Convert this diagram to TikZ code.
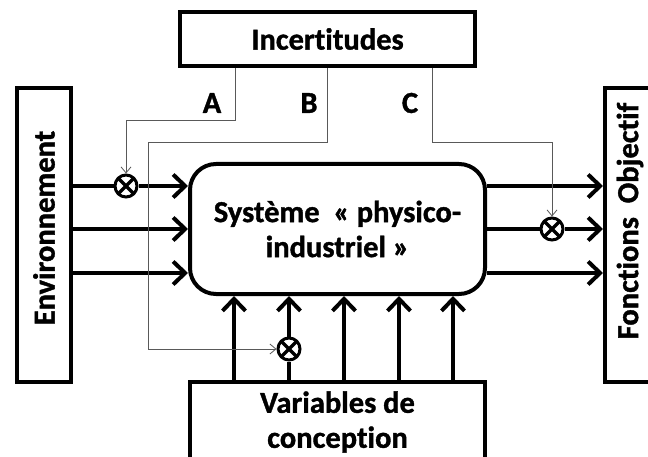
\documentclass[tikz,border=0pt]{standalone}
\usepackage{fontspec}
\setmainfont{Carlito}[Ligatures=NoCommon,BoldFeatures={FakeBold=1.2}]
\usetikzlibrary{arrows.meta,calc}
\begin{document}
\begin{tikzpicture}[x=1pt,y=-1pt,
  box/.style={draw,line width=4pt,inner sep=0pt,font=\bfseries\fontsize{30.5}{35}\selectfont},
  thk/.style={line width=4pt},
  thkarr/.style={thk,-{Straight Barb[length=12pt,width=23pt,line width=4pt]}},
  thin/.style={line width=1pt,draw=black!65},
  thinarr/.style={thin,-{Straight Barb[length=6pt,width=10pt,line width=0.8pt]}},
  otimesnode/.style={circle,draw,line width=3pt,minimum size=22pt,inner sep=0pt,fill=white,
    path picture={\draw[line width=3.2pt] (path picture bounding box.north west) -- (path picture bounding box.south east)
      (path picture bounding box.north east) -- (path picture bounding box.south west);}},
  lab/.style={font=\bfseries\fontsize{30.5}{35}\selectfont}
]
\useasboundingbox (0,0) rectangle (648,457);
% boxes
\node[box,minimum width=295pt,minimum height=54pt] (inc) at (327.5,39) {Incertitudes};
\node[box,minimum width=54pt,minimum height=294pt] (env) at (44,235) {};
\node[rotate=90,lab] at (44,228) {Environnement};
\node[box,minimum width=58pt,minimum height=294pt] (fo) at (634,235) {};
\node[rotate=90,lab] (fot) at (630,221) {Fonctions\ \ Objectif};
\node[box,rounded corners=26pt,minimum width=295pt,minimum height=130pt,align=center] (sys) at (337.5,229) {Système\ \ « physico-\\industriel »};
\node[box,minimum width=295pt,minimum height=80pt,align=center] (var) at (337.5,422) {Variables de\\conception};
% otimes
\node[otimesnode] (o1) at (126,186) {};
\node[otimesnode] (o2) at (552,229) {};
\node[otimesnode] (o3) at (289,349) {};
% coordinates
\coordinate (r1) at (0,186);
\coordinate (r3) at (0,273);
\coordinate (c1) at (234,0);
\coordinate (c3) at (344,0);
\coordinate (c4) at (399,0);
\coordinate (c5) at (453,0);
% left arrows
\draw[thk] (env.east |- o1) -- (o1);
\draw[thkarr] (o1) -- (sys.west |- o1);
\draw[thkarr] (env.east |- sys.west) -- (sys.west);
\draw[thkarr] (env.east |- r3) -- (sys.west |- r3);
% right arrows
\draw[thkarr] (sys.east |- r1) -- (fo.west |- r1);
\draw[thk] (sys.east |- o2) -- (o2);
\draw[thkarr] (o2) -- (fo.west |- o2);
\draw[thkarr] (sys.east |- r3) -- (fo.west |- r3);
% bottom arrows
\draw[thkarr] (var.north -| c1) -- (sys.south -| c1);
\draw[thk] (var.north -| o3) -- (o3);
\draw[thkarr] (o3) -- (sys.south -| o3);
\draw[thkarr] (var.north -| c3) -- (sys.south -| c3);
\draw[thkarr] (var.north -| c4) -- (sys.south -| c4);
\draw[thkarr] (var.north -| c5) -- (sys.south -| c5);
% thin uncertainty lines
\coordinate (ka) at (235,121);
\coordinate (kb) at (148,143);
\coordinate (kc) at (432,143);
\draw[thinarr] (inc.south -| ka) -- (ka) -| (o1.north);
\draw[thinarr] (inc.south) |- (kb) |- (o3.west);
\draw[thinarr] (inc.south -| kc) -- (kc) -| (o2.north);
% labels
\node[lab] (la) at (212,103) {A};
\node[lab] (lb) at (309,103) {B};
\node[lab] (lc) at (410,103) {C};
\end{tikzpicture}
\end{document}
